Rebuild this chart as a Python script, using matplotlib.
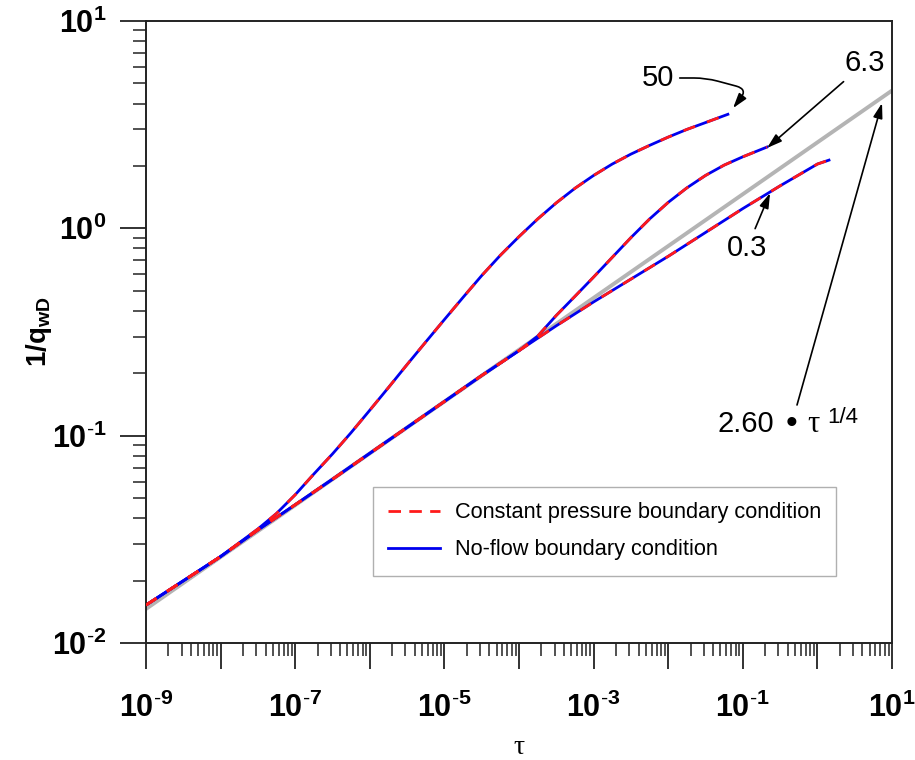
import matplotlib
matplotlib.use('Agg')
import matplotlib.pyplot as plt
import numpy as np
from matplotlib.ticker import LogLocator, NullFormatter, FuncFormatter

plt.rcParams['font.family'] = ['Liberation Sans', 'DejaVu Sans']
plt.rcParams['mathtext.fontset'] = 'custom'
plt.rcParams['mathtext.rm'] = 'Liberation Sans'
plt.rcParams['mathtext.bf'] = 'Liberation Sans:bold'
plt.rcParams['mathtext.it'] = 'Liberation Sans:italic'

# Courbe basse (0.3)
tau_low = [1e-9, 3.162e-9, 1e-8, 3.162e-8, 1e-7, 3.162e-7, 1e-6, 3.162e-6, 1e-5,
           3.162e-5, 1e-4, 3.162e-4, 1e-3, 3.162e-3, 1e-2, 3.162e-2, 0.1, 0.3162, 1.0, 1.43]
q_low = [0.01524, 0.01995, 0.02612, 0.03508, 0.04645, 0.06166, 0.08222, 0.1096, 0.1462,
         0.1950, 0.2570, 0.3388, 0.4416, 0.5689, 0.7328, 0.955, 1.245, 1.603, 2.042, 2.133]

# Courbe moyenne (6.3)
tau_mid = [1e-9, 3.162e-9, 1e-8, 3.162e-8, 1e-7, 3.162e-7, 1e-6, 3.162e-6, 1e-5,
           3.162e-5, 1e-4, 1.778e-4, 3.162e-4, 5.623e-4, 1e-3, 1.778e-3, 3.162e-3,
           5.623e-3, 1e-2, 1.778e-2, 3.162e-2, 5.623e-2, 0.1, 0.211]
q_mid = [0.01524, 0.01995, 0.02612, 0.03508, 0.04645, 0.06166, 0.08222, 0.1096, 0.1462,
         0.1950, 0.2570, 0.3020, 0.3802, 0.4699, 0.5821, 0.7244, 0.9016,
         1.109, 1.334, 1.567, 1.799, 2.018, 2.213, 2.466]

# Courbe haute (50)
tau_high = [1e-9, 3.162e-9, 1e-8, 3.162e-8, 5.623e-8, 1e-7, 1.778e-7, 3.162e-7, 5.623e-7,
            1e-6, 1.778e-6, 3.162e-6, 5.623e-6, 1e-5, 1.778e-5, 3.162e-5, 5.623e-5,
            1e-4, 1.778e-4, 3.162e-4, 5.623e-4, 1e-3, 1.778e-3, 3.162e-3, 5.623e-3,
            1e-2, 1.778e-2, 3.162e-2, 0.0631]
q_high = [0.01524, 0.01995, 0.02612, 0.03548, 0.04217, 0.05188, 0.06531, 0.08166, 0.1035,
          0.1327, 0.1706, 0.2203, 0.2831, 0.3631, 0.4645, 0.5916, 0.7413,
          0.9120, 1.109, 1.327, 1.560, 1.799, 2.042, 2.280, 2.512,
          2.754, 2.999, 3.236, 3.548]

# Droite 2.60 tau^(1/4)
tau_ref = [1e-9, 10.0]
q_ref = [0.0146, 4.62]

fig = plt.figure(figsize=(9.15, 7.6), dpi=100)
ax = fig.add_axes([146/915, 117/760, 746/915, 622/760])

ax.plot(tau_ref, q_ref, color='#b4b4b4', lw=2.8, zorder=1, solid_capstyle='butt')

for t, q in [(tau_low, q_low), (tau_mid, q_mid), (tau_high, q_high)]:
    ax.plot(t, q, color='#0000ee', lw=2, zorder=2)
    ax.plot(t, q, color='#ff1a1a', lw=2, dashes=(4.5, 4.5), zorder=3)

ax.plot([], [], color='#ff1a1a', lw=2, dashes=(4.5, 3), label='Constant pressure boundary condition')
ax.plot([], [], color='#0000ee', lw=2, label='No-flow boundary condition')

ax.set_xscale('log')
ax.set_yscale('log')
ax.set_xlim(1e-9, 10)
ax.set_ylim(1e-2, 10)

def fmt_pow(e):
    if e < 0:
        return r'$\mathbf{10^{\text{-}%d}}$' % (-e)
    return r'$\mathbf{10^{%d}}$' % e

def fmt_x(v, pos):
    e = int(round(np.log10(v)))
    if e % 2 == 0:
        return ''
    return fmt_pow(e)

def fmt_y(v, pos):
    return fmt_pow(int(round(np.log10(v))))

ax.xaxis.set_major_locator(LogLocator(base=10, numticks=30))
ax.xaxis.set_minor_locator(LogLocator(base=10, subs=np.arange(2, 10), numticks=30))
ax.yaxis.set_major_locator(LogLocator(base=10, numticks=30))
ax.yaxis.set_minor_locator(LogLocator(base=10, subs=np.arange(2, 10), numticks=30))
ax.xaxis.set_major_formatter(FuncFormatter(fmt_x))
ax.yaxis.set_major_formatter(FuncFormatter(fmt_y))
ax.xaxis.set_minor_formatter(NullFormatter())
ax.yaxis.set_minor_formatter(NullFormatter())

ax.tick_params(which='major', direction='out', length=18.5, width=1.3, color='#222222',
               labelsize=22, top=False, right=False)
ax.tick_params(which='minor', direction='out', length=9.2, width=1.1, color='#222222',
               top=False, right=False)
ax.tick_params(axis='y', which='major', pad=10)
ax.tick_params(axis='x', which='major', pad=17)

for s in ax.spines.values():
    s.set_linewidth(1.4)
    s.set_color('#222222')

ax.set_xlabel('τ', fontfamily='Liberation Serif', fontsize=20, labelpad=8)
ax.set_ylabel(r'$\mathbf{1/q_{wD}}$', fontsize=20, labelpad=-2)

leg = ax.legend(loc='upper left', bbox_to_anchor=(0.304, 0.251), fontsize=15.7,
                frameon=True, fancybox=False, edgecolor='#b0b0b0', framealpha=1,
                handlelength=2.4, handletextpad=0.65, borderpad=0.7, labelspacing=0.75,
                borderaxespad=0)
leg.get_frame().set_linewidth(1.0)

arrow = dict(arrowstyle='-|>,head_length=0.45,head_width=0.14', color='black', lw=1.2,
             mutation_scale=20, shrinkA=2, shrinkB=0)

ax.annotate('50', xy=(0.074, 3.80), xytext=(7.3e-3, 5.31), ha='center', va='center',
            fontsize=21,
            arrowprops=dict(arrow, connectionstyle='arc,angleA=0,armA=48,angleB=52,armB=24,rad=12'))
ax.annotate('6.3', xy=(0.211, 2.44), xytext=(4.35, 6.27), ha='center', va='center',
            fontsize=21, arrowprops=arrow)
ax.annotate('0.3', xy=(0.232, 1.479), xytext=(0.1138, 0.804), ha='center', va='center',
            fontsize=21, arrowprops=arrow)
ax.annotate('', xy=(7.35, 4.02), xytext=(0.533, 0.1406), arrowprops=dict(arrow, shrinkA=0))

ax.text(0.0451, 0.104, '2.60', fontsize=21, ha='left', va='baseline')
ax.text(0.4565, 0.1138, '•', fontsize=24, ha='center', va='center')
ax.text(0.726, 0.104, 'τ', fontsize=22, fontfamily='Liberation Serif', ha='left', va='baseline')
ax.text(1.345, 0.115, '1/4', fontsize=16, ha='left', va='baseline')

fig.savefig('out.png', dpi=100)
